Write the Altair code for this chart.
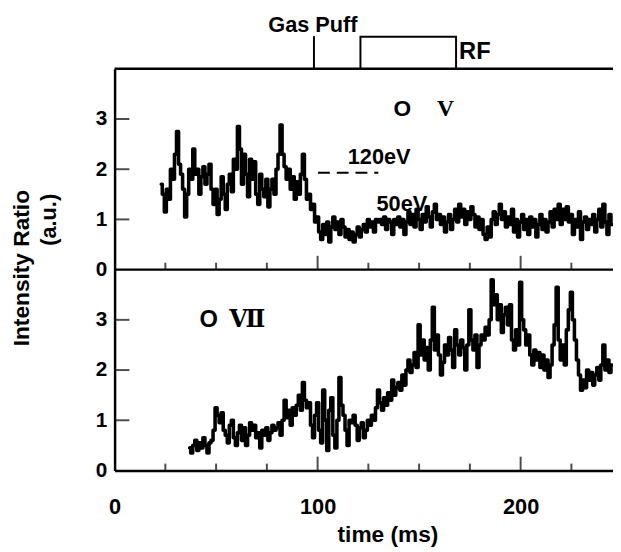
import altair as alt
import pandas as pd

# ---------------- data ----------------
ov_start = 23  # ms, first sample of the O V trace (1 ms steps)
ov_values = [
    1.7, 1.5, 1.15, 1.6, 1.4, 2.0, 1.8, 2.3, 2.75, 2.1,
    1.9, 1.6, 1.05, 1.5, 2.0, 1.8, 2.4, 1.9, 2.0, 1.5,
    1.85, 2.05, 1.7, 1.9, 2.1, 1.6, 1.3, 1.6, 1.1, 1.4,
    1.85, 1.5, 1.2, 1.7, 1.9, 1.55, 2.2, 2.0, 2.85, 2.4,
    1.7, 2.3, 1.9, 1.45, 2.2, 1.8, 2.15, 1.5, 1.3, 1.9,
    1.6, 1.45, 1.8, 1.25, 1.6, 1.8, 1.5, 2.0, 2.3, 2.88,
    2.3, 2.05, 1.8, 2.0, 1.6, 1.85, 1.4, 1.75, 1.5, 1.9,
    2.3, 1.8, 1.4, 1.5, 1.2, 1.3, 0.95, 1.05, 0.75, 0.6,
    0.9, 0.7, 0.95, 0.55, 0.85, 1.05, 0.8, 0.95, 0.7, 1.0,
    0.85, 0.65, 0.8, 0.6, 0.75, 0.55, 0.7, 0.85, 0.65, 0.8,
    0.9, 0.75, 1.0, 0.85, 0.95, 0.75, 1.0, 0.95, 1.0, 0.9,
    1.05, 0.8, 1.0, 0.95, 0.7, 1.0, 0.9, 1.05, 0.85, 1.0,
    0.7, 0.95, 1.15, 0.9, 1.1, 0.85, 1.2, 1.0, 0.8, 1.1,
    0.95, 1.25, 1.05, 0.85, 1.15, 1.3, 1.0, 1.1, 0.9, 1.05,
    0.75, 0.95, 1.1, 0.8, 1.0, 1.2, 0.95, 1.3, 1.05, 1.2,
    0.9, 1.15, 1.0, 1.25, 1.1, 0.85, 1.05, 0.8, 1.0, 0.7,
    0.6, 0.85, 0.65, 1.0, 1.15, 0.9, 1.1, 1.3, 1.0, 1.15,
    0.85, 1.05, 0.9, 1.2, 0.75, 1.0, 0.65, 0.95, 1.1, 0.8,
    1.0, 0.7, 1.05, 0.85, 1.0, 0.65, 0.9, 1.1, 0.8, 1.0,
    0.75, 0.95, 1.15, 0.85, 1.2, 1.0, 1.3, 0.9, 1.2, 1.0,
    1.25, 0.95, 1.1, 0.7, 1.0, 0.85, 1.15, 0.6, 0.95, 1.05,
    0.8, 1.0, 0.9, 1.1, 0.75, 1.0, 1.2, 0.85, 1.3, 0.95,
    0.7, 1.1, 0.9,
]

ovii_start = 37  # ms, first sample of the O VII trace (1 ms steps)
ovii_values = [
    0.45, 0.35, 0.5, 0.6, 0.4, 0.55, 0.45, 0.65, 0.5, 0.35,
    0.55, 0.6, 0.8, 1.25, 1.1, 0.95, 1.15, 0.8, 0.7, 0.55,
    0.9, 1.0, 0.65, 0.5, 0.75, 0.9, 0.6, 0.85, 0.5, 0.7,
    0.95, 0.8, 0.9, 0.65, 0.75, 0.45, 0.8, 0.7, 0.85, 0.6,
    0.75, 0.9, 0.8, 0.85, 0.95, 0.7, 1.0, 1.4, 1.05, 1.2,
    0.9, 1.25, 1.1, 1.3, 1.5, 1.2, 1.75, 1.4, 1.25, 1.35,
    0.9, 0.65, 1.1, 1.35, 0.8, 0.55, 1.6, 1.0, 0.4, 1.2,
    1.45, 0.7, 0.45, 1.0, 1.85, 1.3, 1.1, 0.8, 0.5, 1.0,
    0.95, 1.1, 0.9, 0.6, 0.85, 0.95, 0.65, 0.8, 1.0, 0.9,
    1.1, 1.0, 1.25, 1.6, 1.35, 1.2, 1.45, 1.3, 1.55, 1.4,
    1.8, 1.5, 1.65, 1.75, 1.6, 1.9, 1.7, 2.0, 2.2, 1.95,
    2.1, 2.35, 2.05, 2.9, 2.3, 2.6, 2.2, 2.45, 2.0, 2.6,
    3.25, 2.4, 2.7, 2.3, 1.9, 2.15, 2.5, 2.3, 2.65, 2.4,
    2.05, 2.8, 2.5, 2.3, 2.6, 2.45, 2.0, 2.5, 3.2, 2.6,
    2.4, 2.7, 2.05, 2.5, 2.7, 2.6, 2.85, 2.7, 3.0, 3.8,
    3.3, 3.5, 3.0, 3.3, 2.75, 3.1, 3.25, 2.9, 3.3, 2.6,
    2.4, 2.8, 2.5, 3.75, 3.0, 2.8, 2.5, 2.7, 2.3, 2.1,
    2.4, 2.2, 2.35, 2.05, 2.3, 2.0, 2.2, 1.85, 2.1, 2.5,
    2.9, 3.65, 2.6, 2.2, 2.5, 2.1, 2.8, 3.2, 3.55, 3.0,
    2.6, 2.2, 1.9, 1.6, 1.8, 1.65, 2.0, 1.8, 1.95, 1.7,
    1.9, 2.05, 1.8, 2.1, 2.5, 2.0, 2.2, 1.95, 2.1,
]

x_labels = [0, 100, 200]
x_ticks_major = [100, 200]
x_ticks_minor = [25, 50, 75, 125, 150, 175, 225]
y_ticks = [1, 2, 3]
panel_shift = 4          # the O V panel sits on top of the O VII panel

gas_puff_time = 98.2
rf_on, rf_off = 121.1, 168.2
level_120ev = 1.93
level_120ev_span = [100.2, 129.9]

# ---------------- styling ----------------
SANS = "Liberation Sans, Arial, Helvetica, sans-serif"
SERIF = "Liberation Serif, DejaVu Serif, serif"

XMAX = 245.5
xs = alt.Scale(domain=[0, XMAX], nice=False, zero=False)
ys = alt.Scale(domain=[0, 2 * panel_shift], nice=False, zero=False)

x_axis = alt.Axis(
    values=x_labels, ticks=False, grid=False, domainWidth=2.5, domainColor="black",
    labelFont=SANS, labelFontSize=22, labelFontWeight="bold", labelColor="black",
    labelPadding=27, labelFlush=False, title=None,
)
y_axis = alt.Axis(
    values=[v for v in range(0, 2 * panel_shift)],
    labelExpr=f"datum.value >= {panel_shift} ? '' + (datum.value - {panel_shift}) : '' + datum.value",
    ticks=False, grid=False, domainWidth=2.5, domainColor="black",
    labelFont=SANS, labelFontSize=21, labelFontWeight="bold", labelColor="black",
    labelPadding=8, labelFlush=False, title=None,
)

X = alt.X("t:Q", scale=xs, axis=x_axis)
Y = alt.Y("y:Q", scale=ys, axis=y_axis)

# ---------------- traces ----------------
ov_df = pd.DataFrame({"t": [ov_start + i for i in range(len(ov_values))], "v": ov_values})
ovii_df = pd.DataFrame({"t": [ovii_start + i for i in range(len(ovii_values))], "v": ovii_values})

trace_ov = alt.Chart(ov_df).transform_calculate(y=f"datum.v + {panel_shift}").mark_line(
    interpolate="step", color="black", strokeWidth=3.6, strokeJoin="round", strokeCap="round"
).encode(x=X, y=Y)
trace_ovii = alt.Chart(ovii_df).transform_calculate(y="datum.v").mark_line(
    interpolate="step", color="black", strokeWidth=3.6, strokeJoin="round", strokeCap="round"
).encode(x=X, y=Y)

# ---------------- frame ----------------
hlines = alt.Chart(pd.DataFrame({"y": [panel_shift, 2 * panel_shift]})).mark_rule(
    color="black", strokeWidth=2.5
).encode(y=Y)

xt_rows = []
for base in [0, panel_shift]:
    for t in x_ticks_major:
        xt_rows.append({"t": t, "y": base, "kind": "major"})
    for t in x_ticks_minor:
        xt_rows.append({"t": t, "y": base, "kind": "minor"})
xt_df = pd.DataFrame(xt_rows)
xt_major = alt.Chart(xt_df).transform_filter("datum.kind == 'major'").mark_tick(
    orient="vertical", size=14, thickness=2, yOffset=-7, color="black"
).encode(x=X, y=Y)
xt_minor = alt.Chart(xt_df).transform_filter("datum.kind == 'minor'").mark_tick(
    orient="vertical", size=7, thickness=2, yOffset=-3.5, color="black"
).encode(x=X, y=Y)

yt_df = pd.DataFrame({"y": [v + b for b in [0, panel_shift] for v in y_ticks]})
yt = alt.Chart(yt_df).mark_tick(
    orient="horizontal", size=15, thickness=2, color="black"
).encode(x=alt.value(7.5), y=Y)

# ---------------- gas puff / RF timing diagram ----------------
puff = alt.Chart(pd.DataFrame({"t": [gas_puff_time], "y": [8.0], "y2": [8.65]})).mark_rule(
    color="black", strokeWidth=2
).encode(x=X, y=Y, y2=alt.Y2("y2:Q"))
rf_df = pd.DataFrame({
    "t": [rf_on, rf_on, rf_off, rf_off],
    "y": [8.0, 8.64, 8.64, 8.0],
    "o": [0, 1, 2, 3],
})
rf_box = alt.Chart(rf_df).mark_line(color="black", strokeWidth=2).encode(
    x=X, y=Y, order="o:Q"
)

# dashed 120 eV level
dash = alt.Chart(pd.DataFrame({
    "t": [level_120ev_span[0]], "t2": [level_120ev_span[1]], "y": [level_120ev + panel_shift]
})).mark_rule(color="black", strokeWidth=2, strokeDash=[12, 7]).encode(
    x=X, x2=alt.X2("t2:Q"), y=Y
)

# ---------------- annotations ----------------
sans_df = pd.DataFrame({
    "t": [97.7, 46.4, 141.7],
    "y": [8.88, 2.99, 7.2],
    "label": ["Gas Puff", "O", "O"],
    "size": [22, 24, 23],
})
sans_txt = alt.Chart(sans_df).mark_text(
    font=SANS, fontWeight="bold", color="black", align="center", baseline="middle"
).encode(x=X, y=Y, text="label:N", size=alt.Size("size:Q", scale=None, legend=None))

rf_txt = alt.Chart(pd.DataFrame({"t": [169.7], "y": [8.33], "label": ["RF"]})).mark_text(
    font=SANS, fontWeight="bold", fontSize=24, color="black", align="left", baseline="middle"
).encode(x=X, y=Y, text="label:N")

serif_df = pd.DataFrame({"t": [163.0, 65.4], "y": [7.2, 2.99], "label": ["V", "Ⅶ"]})
serif_txt = alt.Chart(serif_df).mark_text(
    font=SERIF, fontWeight="bold", fontSize=24, color="black", align="center", baseline="middle"
).encode(x=X, y=Y, text="label:N")

ev_df = pd.DataFrame({"t": [130.3, 141.5], "y": [6.25, 5.31], "label": ["120eV", "50eV"]})
ev_txt = alt.Chart(ev_df).mark_text(
    font=SANS, fontWeight="bold", fontSize=22, color="black", align="center", baseline="middle"
).encode(x=X, y=Y, text="label:N")

one = pd.DataFrame({"k": [0]})
ytitle1 = alt.Chart(one).mark_text(
    text="Intensity Ratio", angle=270, font=SANS, fontWeight="bold", fontSize=23,
    color="black", align="center", baseline="middle"
).encode(x=alt.value(-94), y=alt.value(202))
ytitle2 = alt.Chart(one).mark_text(
    text="(a.u.)", angle=270, font=SANS, fontWeight="bold", fontSize=22,
    color="black", align="center", baseline="middle"
).encode(x=alt.value(-66), y=alt.value(153))
xtitle = alt.Chart(one).mark_text(
    text="time (ms)", font=SANS, fontWeight="bold", fontSize=23,
    color="black", align="center", baseline="middle"
).encode(x=alt.value(277), y=alt.value(472))

chart = alt.layer(
    trace_ov, trace_ovii, hlines, xt_major, xt_minor, yt, puff, rf_box, dash,
    sans_txt, rf_txt, serif_txt, ev_txt, ytitle1, ytitle2, xtitle,
).properties(
    width=505,
    height=407,
    padding={"left": 108, "top": 58, "right": 0, "bottom": 79},
    autosize=alt.AutoSizeParams(type="none"),
    background="white",
).configure_view(stroke=None)

chart.save("out.html", embed_options={"renderer": "svg", "actions": False})
